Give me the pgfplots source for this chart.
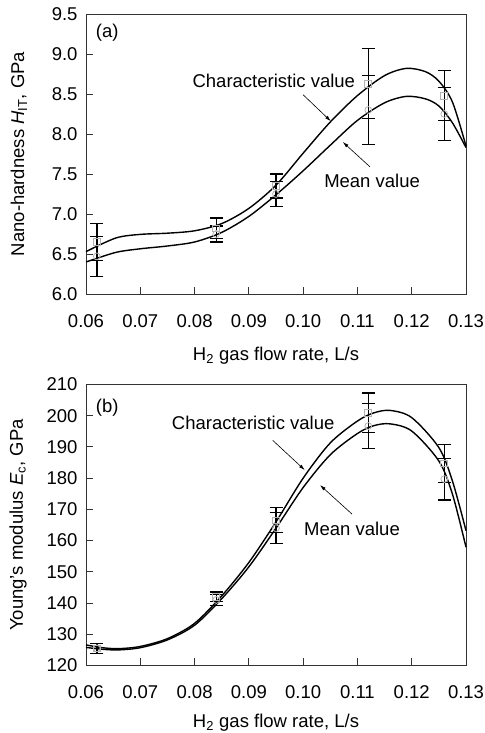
\documentclass[border=0pt]{standalone}
\usepackage{fontspec}
\setmainfont{Liberation Sans}
\usepackage{pgfplots}
\pgfplotsset{compat=1.18}
\usetikzlibrary{arrows.meta}

\tikzset{note/.style={-{Latex[length=6bp,width=3.5bp]}, line width=0.6bp}}

\pgfplotsset{
  panel/.style={
    width=380bp, height=280bp, scale only axis,
    xmin=0.06, xmax=0.13,
    xtick={0.06,0.07,0.08,0.09,0.10,0.11,0.12,0.13},
    xticklabel style={/pgf/number format/fixed, /pgf/number format/precision=2,
      /pgf/number format/fixed zerofill, yshift=-17bp},
    yticklabel style={xshift=-5bp},
    /pgf/number format/assume math mode=true,
    tick align=inside, xtick pos=bottom, ytick pos=left,
    major tick length=7bp,
    axis line style={black!80, line width=0.9bp},
    tick style={black!80, line width=0.9bp},
    xlabel={H\textsubscript{2} gas flow rate, L/s},
    clip=false,
  },
  fitline/.style={black, line width=1.4bp, smooth, no marks},
  charpts/.style={only marks, mark=square, mark size=3.4bp,
    mark options={gray!60, line width=0.8bp},
    error bars/.cd, y dir=both, y explicit,
    error bar style={black, line width=1.3bp},
    error mark options={rotate=90, black, line width=1.3bp, mark size=6.5bp}},
  meanpts/.style={only marks, mark=o, mark size=3.4bp,
    mark options={gray!60, line width=0.8bp},
    error bars/.cd, y dir=both, y explicit,
    error bar style={black, line width=1.3bp},
    error mark options={rotate=90, black, line width=1.3bp, mark size=6.5bp}},
}

\begin{document}
\begin{tikzpicture}[font=\fontsize{18.5bp}{22bp}\selectfont]
\useasboundingbox (0,0) rectangle (485bp,733bp);

% (a) nano-hardness
\begin{axis}[panel, at={(86bp,439bp)}, anchor=south west,
  ymin=6, ymax=9.5, ytick={6,6.5,...,9.5},
  yticklabel style={/pgf/number format/fixed, /pgf/number format/precision=1,
    /pgf/number format/fixed zerofill},
  ylabel={Nano-hardness \textit{H}\textsubscript{IT}, GPa},
  ylabel style={at={(axis description cs:-0.163,0.5)}, anchor=base},
  xlabel style={at={(axis description cs:0.5,-0.236)}, anchor=base},
]
\addplot[fitline] coordinates {
  (0.060,6.53) (0.0655,6.70) (0.070,6.745) (0.075,6.76) (0.080,6.79)
  (0.085,6.88) (0.090,7.07) (0.095,7.36) (0.100,7.76) (0.105,8.15)
  (0.110,8.48) (0.115,8.73) (0.119,8.82) (0.1225,8.78)
  (0.125,8.66) (0.1275,8.40) (0.130,7.85)
};
\addplot[fitline] coordinates {
  (0.060,6.40) (0.0655,6.52) (0.070,6.565) (0.075,6.60) (0.080,6.65)
  (0.085,6.77) (0.090,6.97) (0.095,7.24) (0.100,7.54) (0.105,7.86)
  (0.110,8.17) (0.115,8.39) (0.119,8.47) (0.1225,8.44)
  (0.125,8.35) (0.1275,8.14) (0.130,7.83)
};
\addplot[charpts] coordinates {
  (0.062,6.65) +- (0,0.23)
  (0.084,6.82) +- (0,0.13)
  (0.095,7.35) +- (0,0.15)
  (0.112,8.63) +- (0,0.44)
  (0.126,8.48) +- (0,0.31)
};
\addplot[meanpts] coordinates {
  (0.062,6.47) +- (0,0.25)
  (0.084,6.75) +- (0,0.10)
  (0.095,7.25) +- (0,0.16)
  (0.112,8.30) +- (0,0.43)
  (0.126,8.25) +- (0,0.33)
};
\node at (axis cs:0.0639,9.26) {(a)};
\node at (axis cs:0.0946,8.66) {Characteristic value};
\node at (axis cs:0.1127,7.41) {Mean value};
\draw[note] (axis cs:0.1000,8.49) -- (axis cs:0.1051,8.16);
\draw[note] (axis cs:0.1123,7.59) -- (axis cs:0.1073,7.90);
\end{axis}

% (b) Young's modulus
\begin{axis}[panel, at={(86bp,67.5bp)}, anchor=south west, height=281bp,
  ymin=120, ymax=210, ytick={120,130,...,210},
  ylabel={Young's modulus \textit{E}\textsubscript{c}, GPa},
  ylabel style={at={(axis description cs:-0.166,0.5)}, anchor=base},
  xlabel style={at={(axis description cs:0.5,-0.222)}, anchor=base},
]
\addplot[fitline] coordinates {
  (0.060,126.6) (0.063,125.7) (0.066,125.4) (0.070,126.1) (0.075,128.6)
  (0.080,133.5) (0.085,142.3) (0.090,153.0) (0.095,166.0) (0.100,180.0)
  (0.105,191.3) (0.110,198.3) (0.113,200.9) (0.116,201.7) (0.120,199.4)
  (0.125,189.8) (0.1275,179.1) (0.130,163.2)
};
\addplot[fitline] coordinates {
  (0.060,125.8) (0.063,125.2) (0.066,125.0) (0.070,125.7) (0.075,128.2)
  (0.080,132.9) (0.085,141.4) (0.090,151.6) (0.095,164.0) (0.100,177.0)
  (0.105,187.5) (0.110,194.3) (0.113,196.8) (0.116,197.4) (0.120,195.1)
  (0.125,185.5) (0.1275,174.9) (0.130,157.9)
};
\addplot[charpts] coordinates {
  (0.062,125.5) +- (0,1.6)
  (0.084,142.0) +- (0,1.5)
  (0.095,166.5) +- (0,4.0)
  (0.112,201.0) +- (0,6.3)
  (0.126,184.7) +- (0,6.0)
};
\addplot[meanpts] coordinates {
  (0.062,125.5) +- (0,1.6)
  (0.084,141.0) +- (0,1.8)
  (0.095,164.0) +- (0,5.0)
  (0.112,196.7) +- (0,7.3)
  (0.126,179.7) +- (0,6.7)
};
\node at (axis cs:0.0639,202.7) {(b)};
\node at (axis cs:0.0908,197.6) {Characteristic value};
\node at (axis cs:0.1090,163.7) {Mean value};
\draw[note] (axis cs:0.0944,192.1) -- (axis cs:0.1003,182.6);
\draw[note] (axis cs:0.1090,168.5) -- (axis cs:0.1031,177.8);
\end{axis}
\end{tikzpicture}
\end{document}
